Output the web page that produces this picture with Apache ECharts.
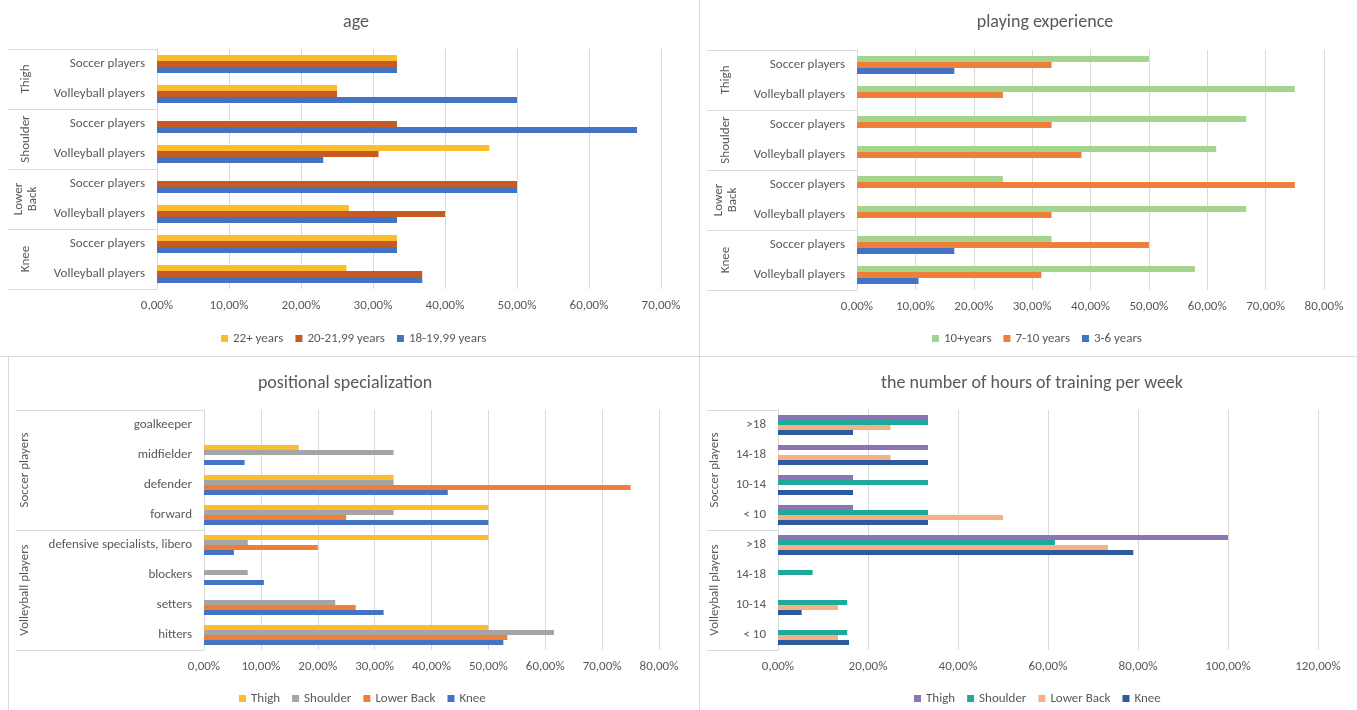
<!DOCTYPE html>
<html>
<head>
<meta charset="utf-8">
<script src="https://cdn.jsdelivr.net/npm/echarts@6/dist/echarts.min.js"></script>
<style>
html,body{margin:0;padding:0;background:#fff;}
#chart{width:1357px;height:710px;}
</style>
</head>
<body>
<div id="chart"></div>
<script>
// ---------- DATA ----------
const bodyGroups = ['Thigh', 'Shoulder', 'Lower\nBack', 'Knee'];
const playerRows = ['Soccer players', 'Volleyball players', 'Soccer players', 'Volleyball players',
                    'Soccer players', 'Volleyball players', 'Soccer players', 'Volleyball players'];

// age (%)
const ageNames = ['22+ years', '20-21,99 years', '18-19,99 years'];
const age22 = [33.33, 25, 0, 46.15, 0, 26.67, 33.33, 26.32];
const age20 = [33.33, 25, 33.33, 30.77, 50, 40, 33.33, 36.84];
const age18 = [33.33, 50, 66.67, 23.08, 50, 33.33, 33.33, 36.84];

// playing experience (%)
const expNames = ['10+years', '7-10 years', '3-6 years'];
const exp10 = [50, 75, 66.67, 61.54, 25, 66.67, 33.33, 57.89];
const exp7 = [33.33, 25, 33.33, 38.46, 75, 33.33, 50, 31.58];
const exp3 = [16.67, 0, 0, 0, 0, 0, 16.67, 10.53];

// positional specialization (%)
const sportGroups = ['Soccer players', 'Volleyball players'];
const posRows = ['goalkeeper', 'midfielder', 'defender', 'forward',
                 'defensive specialists, libero', 'blockers', 'setters', 'hitters'];
const injuryNames = ['Thigh', 'Shoulder', 'Lower Back', 'Knee'];
const posThigh = [0, 16.67, 33.33, 50, 50, 0, 0, 50];
const posShoulder = [0, 33.33, 33.33, 33.33, 7.69, 7.69, 23.08, 61.54];
const posLowerBack = [0, 0, 75, 25, 20, 0, 26.67, 53.33];
const posKnee = [0, 7.14, 42.86, 50, 5.26, 10.53, 31.58, 52.63];

// hours of training per week (%)
const hourRows = ['>18', '14-18', '10-14', '< 10', '>18', '14-18', '10-14', '< 10'];
const hThigh = [33.33, 33.33, 16.67, 16.67, 100, 0, 0, 0];
const hShoulder = [33.33, 0, 33.33, 33.33, 61.54, 7.69, 15.38, 15.38];
const hLowerBack = [25, 25, 0, 50, 73.33, 0, 13.33, 13.33];
const hKnee = [16.67, 33.33, 16.67, 33.33, 78.95, 0, 5.26, 15.79];

// ---------- STYLE ----------
const FONT = 'Carlito, Lato, "Liberation Sans", sans-serif';
const TXT = '#595959';
const LINE = '#d9d9d9';
const C_AGE = ['#fdbd2b', '#c55a22', '#4472c4'];
const C_EXP = ['#a5d48f', '#ef7e38', '#4472c4'];
const C_POS = ['#fdbd2b', '#a5a5a5', '#ef7e38', '#4472c4'];
const C_HRS = ['#8f73b7', '#1ea99a', '#f5b183', '#2e5b9f'];

const pctFmt = v => v.toFixed(2).replace('.', ',') + '%';

function xAxisFor(grid, max, interval) {
  return {
    type: 'value', gridIndex: grid, min: 0, max: max, interval: interval,
    axisLine: { show: false }, axisTick: { show: false },
    splitLine: { lineStyle: { color: LINE, width: 1 } },
    axisLabel: { formatter: pctFmt, color: TXT, fontFamily: FONT, fontSize: 13, margin: 10 }
  };
}
function rowAxis(grid, data) {
  return {
    type: 'category', gridIndex: grid, inverse: true, data: data, position: 'left',
    axisLine: { show: true, lineStyle: { color: LINE } },
    axisTick: { show: false },
    axisLabel: { interval: 0, color: TXT, fontFamily: FONT, fontSize: 13, margin: 12 }
  };
}
function groupAxis(grid, data, tickLen, labelMargin) {
  return {
    type: 'category', gridIndex: grid, inverse: true, data: data, position: 'left', offset: 0,
    axisLine: { show: false },
    axisTick: { show: true, interval: 0, length: tickLen, lineStyle: { color: LINE } },
    axisLabel: { interval: 0, rotate: 90, color: TXT, fontFamily: FONT, fontSize: 13,
                 margin: labelMargin, lineHeight: 14, verticalAlign: 'middle', hideOverlap: false }
  };
}
function bar(name, data, color, xi, yi, w) {
  return {
    type: 'bar', name: name, data: data, xAxisIndex: xi, yAxisIndex: yi,
    barWidth: w, barGap: '0%', itemStyle: { color: color }, silent: true
  };
}
function legendAt(left, top, names, colors) {
  return {
    left: left, top: top,
    data: names.map((n, i) => ({ name: n, itemStyle: { color: colors[i] } })),
    icon: 'rect', itemWidth: 7, itemHeight: 7, itemGap: 12,
    textStyle: { color: TXT, fontFamily: FONT, fontSize: 13 }, selectedMode: false
  };
}
function titleAt(text, x, y) {
  return { text: text, left: x, top: y, textAlign: 'center',
    textStyle: { color: TXT, fontFamily: FONT, fontSize: 18, fontWeight: 'normal' } };
}

const chart = echarts.init(document.getElementById('chart'), null, { renderer: 'canvas' });

const option = {
  animation: false,
  backgroundColor: '#fff',
  title: [
    titleAt('age', 351, 8),
    titleAt('playing experience', 1040, 8),
    titleAt('positional specialization', 340, 369),
    titleAt('the number of hours of training per week', 1027, 369)
  ],
  legend: [
    legendAt(216, 327, ageNames, C_AGE),
    legendAt(927, 327, expNames, C_EXP),
    legendAt(234, 687, injuryNames, C_POS),
    legendAt(909, 687, injuryNames, C_HRS)
  ],
  grid: [
    { left: 157, top: 49, width: 504, height: 240 },
    { left: 857, top: 50, width: 467, height: 240 },
    { left: 204, top: 410, width: 455, height: 240 },
    { left: 778, top: 410, width: 540, height: 240 }
  ],
  xAxis: [
    xAxisFor(0, 70, 10),
    xAxisFor(1, 80, 10),
    xAxisFor(2, 80, 10),
    xAxisFor(3, 120, 20)
  ],
  yAxis: [
    rowAxis(0, playerRows),
    groupAxis(0, bodyGroups, 149, 131),
    rowAxis(1, playerRows),
    groupAxis(1, bodyGroups, 150, 131),
    rowAxis(2, posRows),
    groupAxis(2, sportGroups, 188, 179),
    rowAxis(3, hourRows),
    groupAxis(3, sportGroups, 71, 63)
  ],
  series: [
    bar(ageNames[0], age22, C_AGE[0], 0, 0, 6),
    bar(ageNames[1], age20, C_AGE[1], 0, 0, 6),
    bar(ageNames[2], age18, C_AGE[2], 0, 0, 6),

    bar(expNames[0], exp10, C_EXP[0], 1, 2, 6),
    bar(expNames[1], exp7, C_EXP[1], 1, 2, 6),
    bar(expNames[2], exp3, C_EXP[2], 1, 2, 6),

    bar(injuryNames[0], posThigh, C_POS[0], 2, 4, 5),
    bar(injuryNames[1], posShoulder, C_POS[1], 2, 4, 5),
    bar(injuryNames[2], posLowerBack, C_POS[2], 2, 4, 5),
    bar(injuryNames[3], posKnee, C_POS[3], 2, 4, 5),

    bar(injuryNames[0], hThigh, C_HRS[0], 3, 6, 5),
    bar(injuryNames[1], hShoulder, C_HRS[1], 3, 6, 5),
    bar(injuryNames[2], hLowerBack, C_HRS[2], 3, 6, 5),
    bar(injuryNames[3], hKnee, C_HRS[3], 3, 6, 5)
  ],
  graphic: [
    { type: 'line', silent: true, shape: { x1: 699.5, y1: 0, x2: 699.5, y2: 710 }, style: { stroke: LINE, lineWidth: 1 } },
    { type: 'line', silent: true, shape: { x1: 0, y1: 356.5, x2: 1357, y2: 356.5 }, style: { stroke: LINE, lineWidth: 1 } },
    { type: 'line', silent: true, shape: { x1: 8.5, y1: 357, x2: 8.5, y2: 710 }, style: { stroke: LINE, lineWidth: 1 } }
  ]
};
chart.setOption(option);
</script>
</body>
</html>
